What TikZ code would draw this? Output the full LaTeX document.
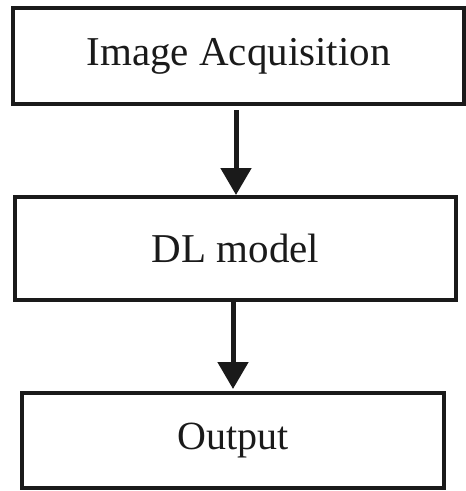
\documentclass[tikz,border=0pt]{standalone}
\usepackage{fontspec}
\setmainfont{Liberation Serif}
\usetikzlibrary{arrows.meta}
\definecolor{ink}{HTML}{1A1A1A}
\tikzset{
  stagebox/.style={draw=ink, line width=4pt, text=ink, inner sep=0pt,
    font=\fontsize{41}{48}\selectfont},
  flowarrow/.style={draw=ink, line width=5pt,
    -{Triangle[width=30pt,length=27pt]}, shorten <=4pt}
}
\begin{document}
\begin{tikzpicture}[x=1pt,y=-1pt]
  \useasboundingbox (0,0) rectangle (466,491);
  \node[stagebox, minimum width=451pt, minimum height=96pt]
    (acq) at (238.5,56) {Image Acquisition};
  \node[stagebox, minimum width=441pt, minimum height=103pt]
    (dl) at (235.5,248.5) {DL model};
  \node[stagebox, minimum width=422pt, minimum height=95pt,
    font=\fontsize{40}{48}\selectfont]
    (out) at (233,440.5) {Output};
  \draw[flowarrow] ([xshift=-2.5pt]acq.south) -- ([xshift=0.5pt]dl.north);
  \draw[flowarrow, shorten <=0pt, shorten >=2pt] ([xshift=-2.5pt]dl.south) -- (out.north);
\end{tikzpicture}
\end{document}
